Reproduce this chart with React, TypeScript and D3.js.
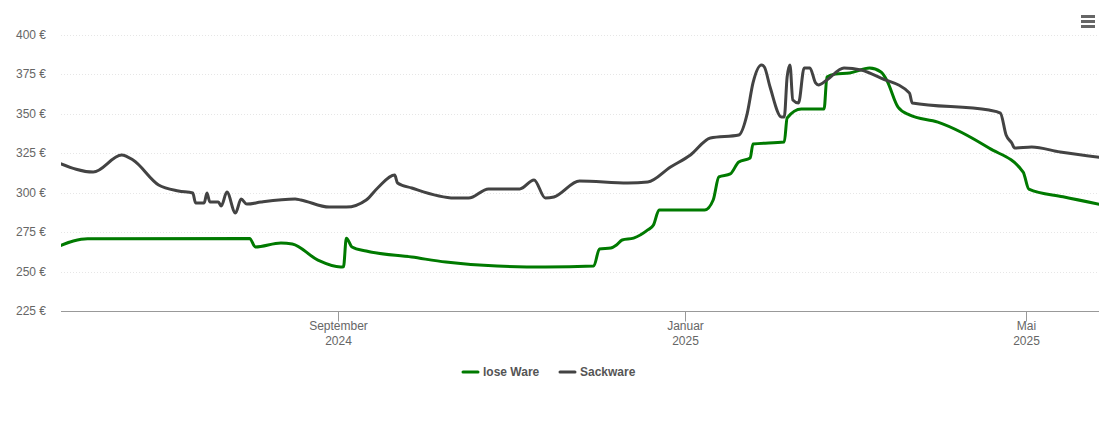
import * as d3 from 'd3';
import React, { useEffect, useRef } from 'react';

// price series (date, €)
const loseWare: [string, number][] = [
  ['2024-05-26', 266.2], ['2024-05-31', 269.4], ['2024-06-05', 270.8], ['2024-08-01', 271],
  ['2024-08-03', 265.6], ['2024-08-12', 268.1], ['2024-08-16', 267.5], ['2024-08-25', 257.3],
  ['2024-09-02', 252.9], ['2024-09-03', 253], ['2024-09-04', 271.2], ['2024-09-06', 265.6],
  ['2024-09-11', 263], ['2024-09-27', 259.2], ['2024-10-09', 256], ['2024-10-27', 253.5],
  ['2024-11-13', 252.9], ['2024-11-30', 253.5], ['2024-12-02', 264.3], ['2024-12-06', 264.9],
  ['2024-12-08', 266.8], ['2024-12-10', 270], ['2024-12-14', 271.2], ['2024-12-19', 276.4],
  ['2024-12-21', 279.5], ['2024-12-23', 289], ['2025-01-08', 289], ['2025-01-11', 295.4],
  ['2025-01-13', 310], ['2025-01-17', 311.9], ['2025-01-20', 319.5], ['2025-01-24', 322],
  ['2025-01-25', 330.9], ['2025-02-05', 332.2], ['2025-02-06', 347.4], ['2025-02-11', 353.1],
  ['2025-02-19', 353.1], ['2025-02-20', 373.4], ['2025-02-23', 375.3], ['2025-02-28', 375.9],
  ['2025-03-07', 379], ['2025-03-11', 376.5], ['2025-03-13', 371.5], ['2025-03-17', 354.3],
  ['2025-03-21', 349.3], ['2025-03-31', 344.8], ['2025-04-18', 328.3], ['2025-04-30', 313.1],
  ['2025-05-02', 302.3], ['2025-05-14', 297.4], ['2025-05-27', 292.6]
];

const sackware: [string, number][] = [
  ['2024-05-26', 318.8], ['2024-06-07', 313.1], ['2024-06-17', 323.9], ['2024-06-21', 320.7],
  ['2024-06-30', 304.9], ['2024-07-07', 301.1], ['2024-07-12', 299.8], ['2024-07-13', 293.5],
  ['2024-07-16', 293.5], ['2024-07-17', 299.8], ['2024-07-18', 294.1], ['2024-07-21', 294.1],
  ['2024-07-22', 291.6], ['2024-07-24', 300.4], ['2024-07-27', 287.1], ['2024-07-29', 296],
  ['2024-07-31', 292.8], ['2024-08-05', 294.1], ['2024-08-17', 296], ['2024-08-19', 295.4],
  ['2024-08-29', 290.9], ['2024-09-04', 290.9], ['2024-09-11', 295.4], ['2024-09-15', 303],
  ['2024-09-21', 311.2], ['2024-09-22', 306.2], ['2024-09-27', 303], ['2024-10-12', 296.6],
  ['2024-10-17', 296.6], ['2024-10-24', 302.4], ['2024-11-04', 302.4], ['2024-11-09', 308.1],
  ['2024-11-13', 296.6], ['2024-11-16', 297.3], ['2024-11-25', 307.4], ['2024-12-12', 306.2],
  ['2024-12-19', 306.8], ['2024-12-27', 316.3], ['2025-01-03', 323.9], ['2025-01-10', 334.7],
  ['2025-01-20', 336.6], ['2025-01-23', 350.5], ['2025-01-25', 369.6], ['2025-01-28', 381],
  ['2025-01-29', 379.7], ['2025-01-31', 367], ['2025-02-04', 348], ['2025-02-05', 348],
  ['2025-02-06', 373.4], ['2025-02-07', 381], ['2025-02-08', 358.8], ['2025-02-10', 356.9],
  ['2025-02-12', 379.1], ['2025-02-14', 379.1], ['2025-02-16', 369.6], ['2025-02-17', 368.3],
  ['2025-02-20', 371.5], ['2025-02-26', 379.1], ['2025-03-04', 377.8], ['2025-03-11', 372.7],
  ['2025-03-21', 363.2], ['2025-03-22', 356.9], ['2025-04-18', 352.4], ['2025-04-22', 350.5],
  ['2025-04-24', 336.6], ['2025-04-26', 331.5], ['2025-04-27', 328.3], ['2025-05-03', 329],
  ['2025-05-13', 325.8], ['2025-05-27', 322.4]
];

const yTicks = [225, 250, 275, 300, 325, 350, 375, 400];
const xTicks: [string, string, string][] = [
  ['2024-09-01', 'September', '2024'],
  ['2025-01-01', 'Januar', '2025'],
  ['2025-05-01', 'Mai', '2025']
];
const seriesNames = ['lose Ware', 'Sackware'];
const seriesColors = ['#007a00', '#434343'];

const W = 1110;
const H = 422;
const margin = { left: 61, right: 11, top: 35, bottom: 111 };

export default function App() {
  const ref = useRef<SVGSVGElement>(null);

  useEffect(() => {
    document.body.style.margin = '0';
    const svg = d3.select(ref.current);
    svg.selectAll('*').remove();

    const parse = d3.timeParse('%Y-%m-%d');
    const x = d3
      .scaleTime()
      .domain([new Date(2024, 4, 26, 16), new Date(2025, 4, 26, 16)])
      .range([margin.left, W - margin.right]);
    const y = d3
      .scaleLinear()
      .domain([225, 400])
      .range([H - margin.bottom, margin.top]);

    const font = '"Liberation Sans", Arial, sans-serif';

    svg
      .append('defs')
      .append('clipPath')
      .attr('id', 'plot-clip')
      .append('rect')
      .attr('x', margin.left)
      .attr('y', 0)
      .attr('width', W - margin.left - margin.right)
      .attr('height', H - margin.bottom + 5);

    // grid
    const grid = svg.append('g');
    yTicks.slice(1).forEach((t) => {
      grid
        .append('line')
        .attr('x1', margin.left)
        .attr('x2', W - margin.right)
        .attr('y1', Math.round(y(t)) + 0.5)
        .attr('y2', Math.round(y(t)) + 0.5)
        .attr('stroke', '#e6e6e6')
        .attr('stroke-dasharray', '1,2');
    });

    // y labels
    svg
      .append('g')
      .selectAll('text')
      .data(yTicks)
      .join('text')
      .attr('x', 46)
      .attr('y', (d) => y(d) + 4)
      .attr('text-anchor', 'end')
      .attr('font-family', font)
      .attr('font-size', 12)
      .attr('fill', '#666')
      .text((d) => `${d} €`);

    // x axis
    const axisY = Math.round(y(225)) + 0.5;
    svg
      .append('line')
      .attr('x1', margin.left)
      .attr('x2', W - margin.right)
      .attr('y1', axisY)
      .attr('y2', axisY)
      .attr('stroke', '#999')
      .attr('stroke-width', 1.2);

    const xg = svg.append('g');
    xTicks.forEach(([d, m, yr]) => {
      const px = Math.round(x(parse(d)!)) + 0.5;
      xg.append('line')
        .attr('x1', px)
        .attr('x2', px)
        .attr('y1', axisY)
        .attr('y2', axisY + 10)
        .attr('stroke', '#999');
      [m, yr].forEach((s, i) => {
        xg.append('text')
          .attr('x', px)
          .attr('y', 330 + i * 15)
          .attr('text-anchor', 'middle')
          .attr('font-family', font)
          .attr('font-size', 12)
          .attr('fill', '#666')
          .text(s);
      });
    });

    // series
    const line = d3
      .line<[string, number]>()
      .x((d) => x(parse(d[0])!))
      .y((d) => y(d[1]))
      .curve(d3.curveMonotoneX);

    const plot = svg.append('g').attr('clip-path', 'url(#plot-clip)');
    [loseWare, sackware].forEach((data, i) => {
      plot
        .append('path')
        .datum(data)
        .attr('d', line)
        .attr('fill', 'none')
        .attr('stroke', seriesColors[i])
        .attr('stroke-width', 3)
        .attr('stroke-linejoin', 'round')
        .attr('stroke-linecap', 'round');
    });

    // legend
    const legendX = [463, 560];
    seriesNames.forEach((name, i) => {
      const g = svg.append('g').attr('transform', `translate(${legendX[i]},372)`);
      g.append('line')
        .attr('x1', 0)
        .attr('x2', 15)
        .attr('stroke', seriesColors[i])
        .attr('stroke-width', 3)
        .attr('stroke-linecap', 'round');
      g.append('text')
        .attr('x', 20)
        .attr('y', 4)
        .attr('font-family', font)
        .attr('font-size', 12)
        .attr('font-weight', 'bold')
        .attr('fill', '#555')
        .text(name);
    });

    // menu icon
    [0, 1, 2].forEach((i) => {
      svg
        .append('line')
        .attr('x1', 1081)
        .attr('x2', 1095)
        .attr('y1', 16.5 + i * 5)
        .attr('y2', 16.5 + i * 5)
        .attr('stroke', '#666')
        .attr('stroke-width', 3);
    });
  }, []);

  return <svg ref={ref} width={W} height={H} style={{ display: 'block', background: '#fff' }} />;
}
